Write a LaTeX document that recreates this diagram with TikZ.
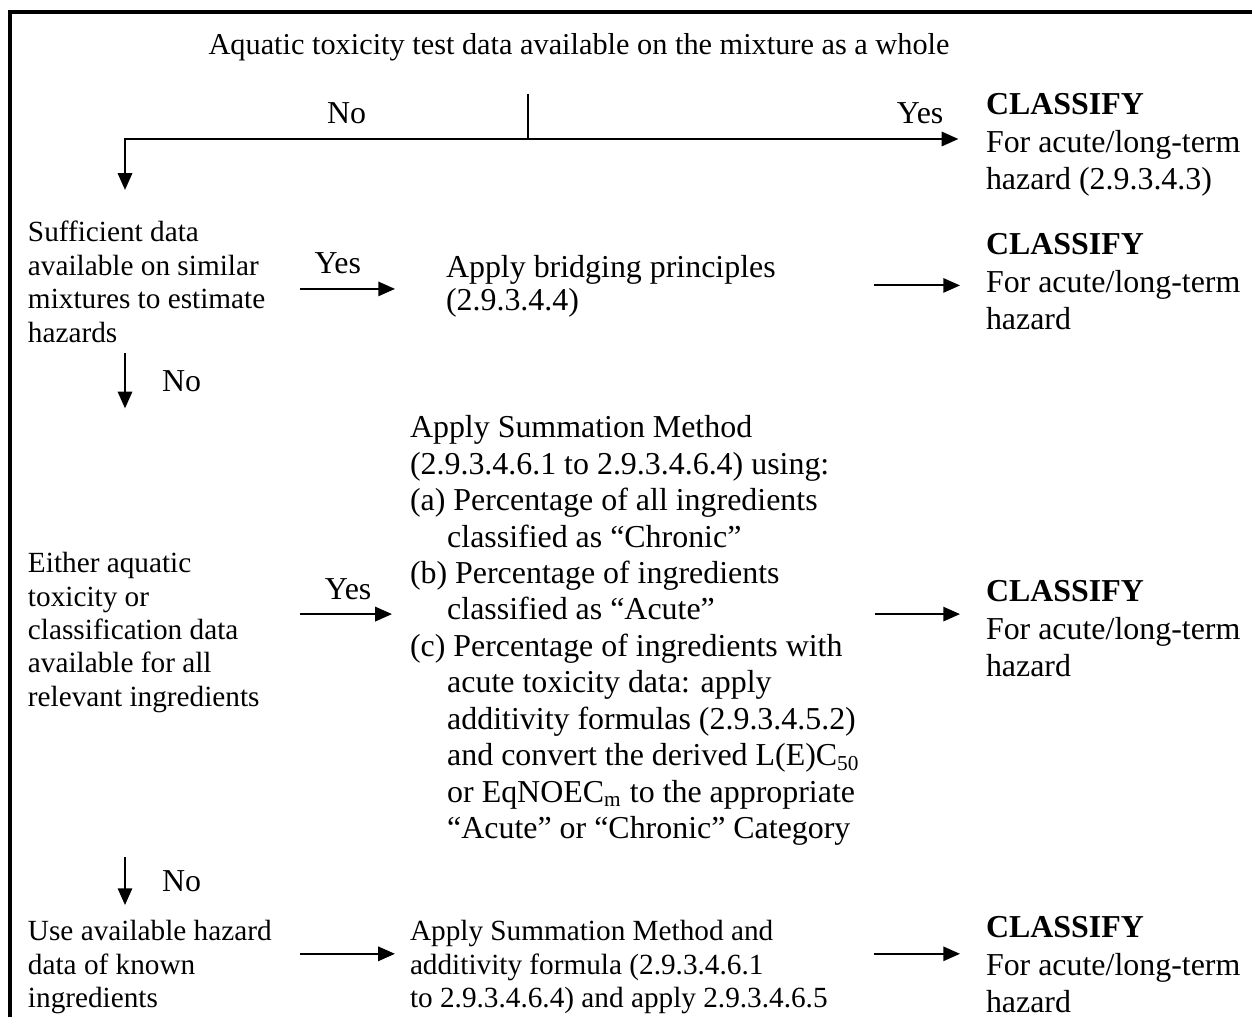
\documentclass[tikz,border=0pt]{standalone}
\usepackage{fontspec}
\setmainfont{Liberation Serif}
\usepackage{tikz}
\usetikzlibrary{arrows.meta}
\usetikzlibrary{calc}
\usetikzlibrary{positioning}
\newcommand{\hangsp}{\hspace*{14pt}}

\begin{document}
\begin{tikzpicture}[x=0.376pt,y=-0.376pt,->,>={Triangle[length=6.3pt,width=5.4pt]},line width=0.75pt,
  small node/.style={inner sep=0pt,anchor=north west,align=left,font=\fontsize{11}{12.55}\selectfont},
  main node/.style={inner sep=0pt,anchor=north west,align=left,font=\fontsize{12}{13.7}\selectfont},
  classify node/.style={inner sep=0pt,anchor=north west,align=left,font=\fontsize{12}{14.1}\selectfont},
  label node/.style={inner sep=0pt,font=\fontsize{12}{14}\selectfont}]

    \useasboundingbox (0,0) rectangle (1252,1017);
    \draw[-,line width=1.3pt] (10,1017) -- (10,12) -- (1252,12);

    \node[label node,anchor=base,font=\fontsize{11.4}{13}\selectfont] (title) at (579,55) {Aquatic toxicity test data available on the mixture as a whole};
    \node[classify node] (classify-a) at (985,87.6) {\strut\textbf{CLASSIFY}\\For acute/long-term\\hazard (2.9.3.4.3)};

    \node[small node] (similar) at (27,217.6) {\strut Sufficient data\\available on similar\\mixtures to estimate\\hazards};
    \node[main node,font=\fontsize{12}{12.4}\selectfont] (bridging) at (445,253) {\strut Apply bridging principles\\(2.9.3.4.4)};
    \node[classify node] (classify-b) at (985,227.6) {\strut\textbf{CLASSIFY}\\For acute/long-term\\hazard};

    \node[small node] (all-data) at (27,548.3) {\strut Either aquatic\\toxicity or\\classification data\\available for all\\relevant ingredients};
    \node[main node] (summation) at (409,411.2) {\strut Apply Summation Method\\(2.9.3.4.6.1 to 2.9.3.4.6.4) using:\\(a) Percentage of all ingredients\\\hangsp classified as “Chronic”\\(b) Percentage of ingredients\\\hangsp classified as “Acute”\\(c) Percentage of ingredients with\\\hangsp acute toxicity data: apply\\\hangsp additivity formulas (2.9.3.4.5.2)\\\hangsp and convert the derived L(E)C\textsubscript{50}\\\hangsp or EqNOEC\textsubscript{m} to the appropriate\\\hangsp “Acute” or “Chronic” Category};
    \node[classify node] (classify-c) at (985,574.6) {\strut\textbf{CLASSIFY}\\For acute/long-term\\hazard};

    \node[small node] (known) at (27,916.6) {\strut Use available hazard\\data of known\\ingredients};
    \node[small node] (summation-known) at (409,916.6) {\strut Apply Summation Method and\\additivity formula (2.9.3.4.6.1\\to 2.9.3.4.6.4) and apply 2.9.3.4.6.5};
    \node[classify node] (classify-d) at (985,910.6) {\strut\textbf{CLASSIFY}\\For acute/long-term\\hazard};

    \coordinate (split) at (528,139);
    \coordinate (turn) at (125,139);

    \draw[-] ($(split |- title.south)+(0,31)$) -- (split);
    \draw[shorten >=10.4pt] (split) -- node[label node,above=5.3pt,pos=0.45] {No} (turn) -- (turn |- similar.north);
    \draw[shorten >=10pt] (split) -- node[label node,above=5.3pt,pos=0.858] {Yes} (split -| classify-a.west);

    \draw[shorten <=12.8pt,shorten >=18.8pt] ($(bridging.west -| similar.east)+(0,3.5)$) -- node[label node,above=5.3pt,pos=0.4] {Yes} ($(bridging.west)+(0,3.5)$);
    \draw[shorten <=36.5pt,shorten >=9.4pt] (bridging.east) -- (bridging.east -| classify-b.west);
    \draw ($(turn |- similar.south)+(0,10)$) -- node[label node,right=13.6pt] {No} ++(0,55);

    \draw[shorten <=14.8pt,shorten >=6.4pt] ($(summation.west -| all-data.east)+(0,-14.7)$) -- node[label node,above=5pt,pos=0.59] {Yes} ($(summation.west)+(0,-14.7)$);
    \draw[shorten <=5.5pt,shorten >=9.4pt] ($(summation.east)+(0,-14.7)$) -- ($(summation.east -| classify-c.west)+(0,-14.7)$);
    \draw ($(turn |- known.north)+(0,-59.6)$) -- node[label node,right=13.6pt] {No} ($(turn |- known.north)+(0,-11.6)$);

    \draw[shorten <=10.3pt,shorten >=5.3pt] ($(summation-known.west -| known.east)+(0,-12)$) -- ($(summation-known.west)+(0,-12)$);
    \draw[shorten <=17pt,shorten >=9.4pt] ($(summation-known.east)+(0,-12)$) -- ($(summation-known.east -| classify-d.west)+(0,-12)$);

\end{tikzpicture}
\end{document}
